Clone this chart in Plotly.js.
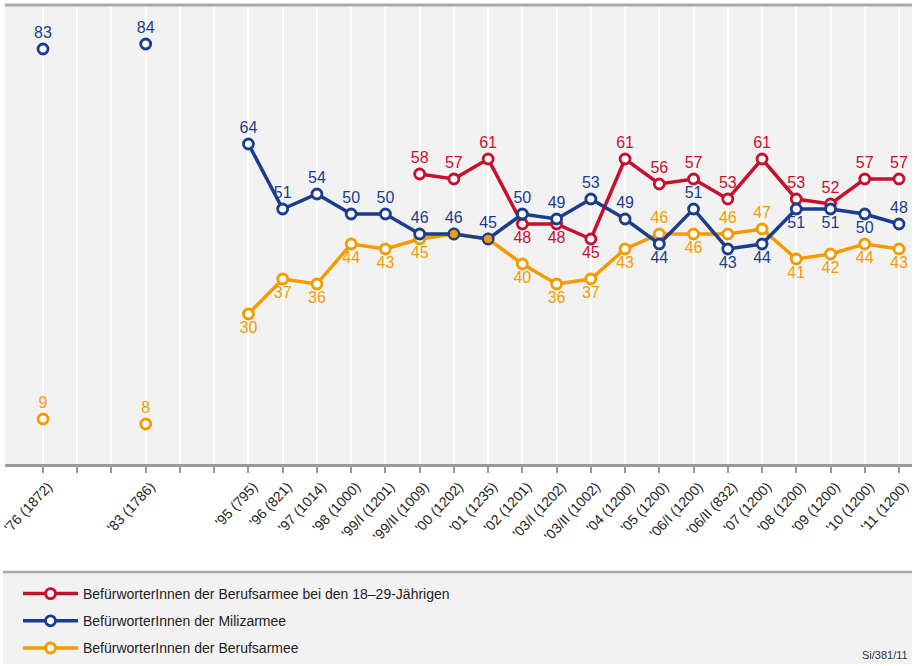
<!DOCTYPE html>
<html>
<head>
<meta charset="utf-8">
<script src="https://cdn.plot.ly/plotly-3.0.1.min.js"></script>
<style>
html,body{margin:0;padding:0;background:#fff;}
#chart{width:914px;height:666px;}
</style>
</head>
<body>
<div id="chart"></div>
<script>
// ---- data ----
const tickLabels = ["'76 (1872)","","","'83 (1786)","","","'95 (795)","'96 (821)","'97 (1014)","'98 (1000)","'99/I (1201)","'99/II (1009)","'00 (1202)","'01 (1235)","'02 (1201)","'03/I (1202)","'03/II (1002)","'04 (1200)","'05 (1200)","'06/I (1200)","'06/II (832)","'07 (1200)","'08 (1200)","'09 (1200)","'10 (1200)","'11 (1200)"];
const redName = "BefürworterInnen der Berufsarmee bei den 18–29-Jährigen";
const blueName = "BefürworterInnen der Milizarmee";
const orangeName = "BefürworterInnen der Berufsarmee";
const redValues = [null,null,null,null,null,null,null,null,null,null,null,58,57,61,48,48,45,61,56,57,53,61,53,52,57,57];
const blueValues = [83,null,null,84,null,null,64,51,54,50,50,46,46,45,50,49,53,49,44,51,43,44,51,51,50,48];
const orangeValues = [9,null,null,8,null,null,30,37,36,44,43,45,46,45,40,36,37,43,46,46,46,47,41,42,44,43];

// ---- label placement (style) ----
const redPlace    = "tttttttttttttttbbbttttttttt".slice(1).split("");
const bluePlace   = "ttttttttttttttttttbtbbbbbt".split("");
const orangePlace = "tttttbbbbbbbbbbbbbtbttbbbb".split("");

const RED = "#c8102e", BLUE = "#1a3d8f", ORANGE = "#f59b00";
const FONT = "Liberation Sans, Arial, sans-serif";
const xIdx = tickLabels.map((_, i) => i);

function pos(p){ return p === "t" ? "top center" : "bottom center"; }

function series(name, vals, place, color, rank, hideMask){
  return {
    type: "scatter", mode: "lines+markers+text", name: name,
    x: xIdx, y: vals, connectgaps: false,
    text: vals.map((v, i) => (v === null || (hideMask && hideMask[i])) ? "" : String(v)),
    textposition: place.map(pos),
    textfont: {family: FONT, size: 16, color: color},
    line: {color: color, width: 3.5},
    marker: {symbol: "circle", size: 10, color: "#ffffff", line: {color: color, width: 2.8}},
    cliponaxis: false, hoverinfo: "skip",
    legendrank: rank, legendgroup: name
  };
}

const sameMask = orangeValues.map((v, i) => v !== null && v === blueValues[i]);

const traces = [
  series(redName, redValues, redPlace, RED, 1),
  series(orangeName, orangeValues, orangePlace, ORANGE, 3, sameMask),
  series(blueName, blueValues, bluePlace, BLUE, 2),
  {
    type: "scatter", mode: "markers", showlegend: false, hoverinfo: "skip",
    x: xIdx.filter(i => sameMask[i]), y: orangeValues.filter((v, i) => sameMask[i]),
    marker: {symbol: "circle", size: 8, color: ORANGE}
  }
];

const plotTop = 5, plotBottom = 464, plotH = plotBottom - plotTop;
const plotLeft = 5, plotRight = 912, plotW = plotRight - plotLeft;
const py = p => (plotBottom - p) / plotH;
const px = p => (p - plotLeft) / plotW;

const layout = {
  width: 914, height: 666,
  margin: {l: plotLeft, r: 914 - plotRight, t: plotTop, b: 666 - plotBottom, pad: 0},
  paper_bgcolor: "#ffffff", plot_bgcolor: "#f2f2f2",
  font: {family: FONT, color: "#222"},
  showlegend: true,
  xaxis: {
    range: [-1.11, 25.38], tickmode: "array", tickvals: xIdx, ticktext: tickLabels,
    tickangle: -47, tickfont: {family: FONT, size: 14, color: "#222"},
    ticklabeloverflow: "allow", ticklabelshift: 5,
    ticks: "outside", ticklen: 6, tickwidth: 2, tickcolor: "#9a9a9a",
    showgrid: true, gridcolor: "#ffffff", gridwidth: 2,
    showline: true, linecolor: "#9a9a9a", linewidth: 3,
    zeroline: false, fixedrange: true
  },
  yaxis: {range: [0, 91.8], visible: false, fixedrange: true},
  legend: {
    x: px(18), xanchor: "left", y: py(578), yanchor: "top",
    bgcolor: "rgba(0,0,0,0)", borderwidth: 0, itemwidth: 55,
    font: {family: FONT, size: 14, color: "#222"},
    traceorder: "grouped", tracegroupgap: 6, itemclick: false, itemdoubleclick: false
  },
  shapes: [
    {type: "rect", xref: "paper", yref: "paper", x0: px(3), x1: px(912), y0: py(572), y1: py(664),
     fillcolor: "#f2f2f2", line: {width: 0}, layer: "below"},
    {type: "line", xref: "paper", yref: "paper", x0: px(3), x1: px(912), y0: py(572), y1: py(572),
     line: {color: "#aaaaaa", width: 2.5}},
    {type: "line", xref: "paper", yref: "paper", x0: 0, x1: 1, y0: 1, y1: 1,
     line: {color: "#aaaaaa", width: 3}}
  ],
  annotations: [
    {text: "Si/381/11", xref: "paper", yref: "paper", x: px(910), y: py(655), xanchor: "right", yanchor: "middle",
     showarrow: false, font: {family: FONT, size: 11, color: "#333"}}
  ]
};

Plotly.newPlot("chart", traces, layout, {staticPlot: true, displayModeBar: false});
</script>
</body>
</html>
